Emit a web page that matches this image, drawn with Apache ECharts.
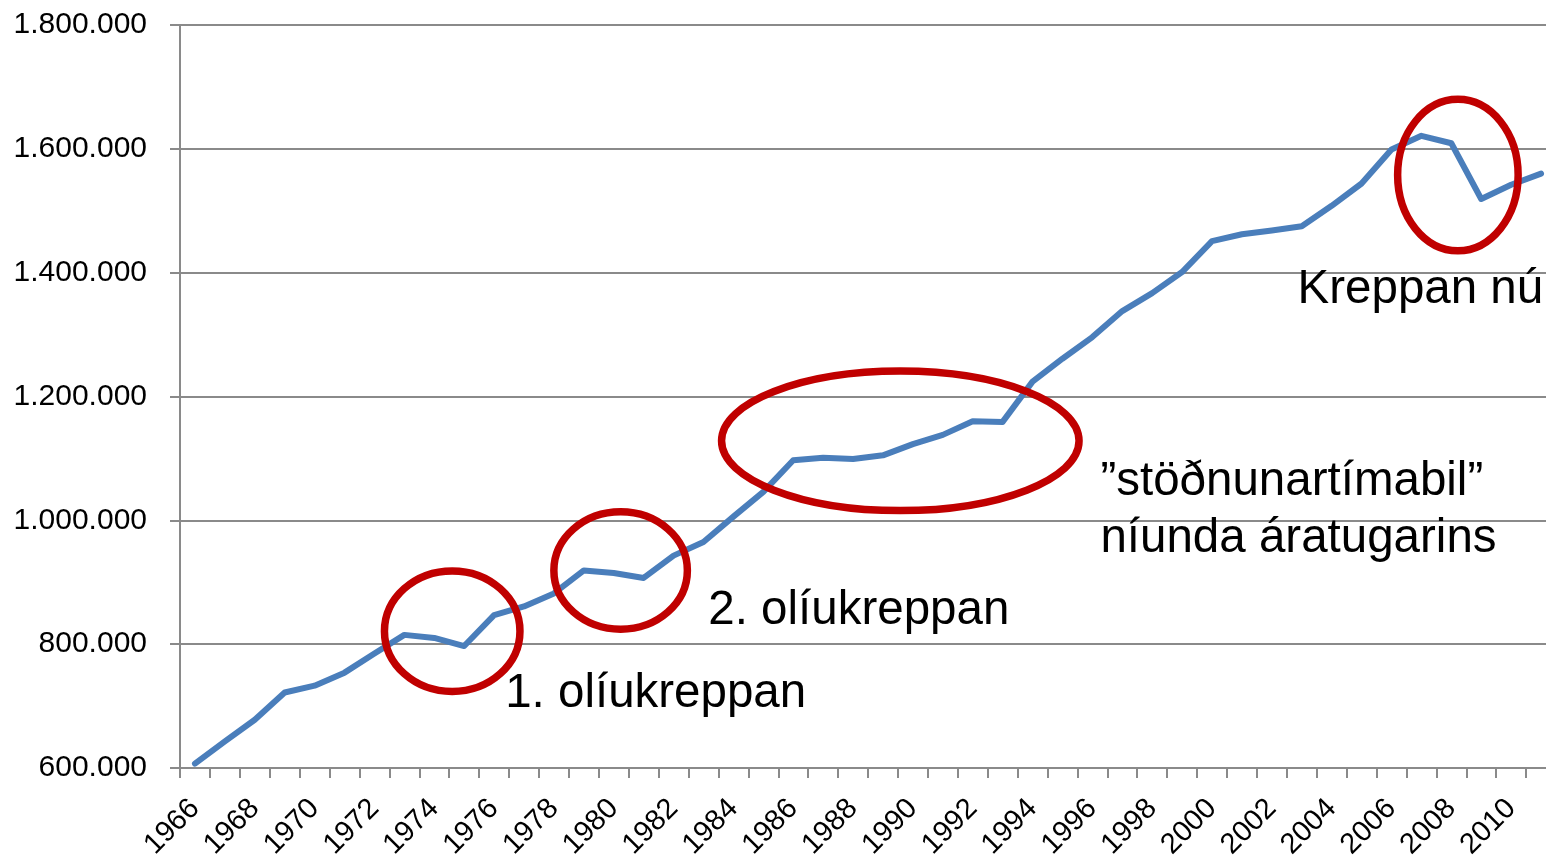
<!DOCTYPE html>
<html>
<head>
<meta charset="utf-8">
<script src="https://cdn.jsdelivr.net/npm/echarts@6/dist/echarts.min.js"></script>
<style>
html,body{margin:0;padding:0;background:#fff;}
#c{width:1546px;height:859px;}
</style>
</head>
<body>
<div id="c"></div>
<script>
// ---- data ----
const years = [];
for (let y = 1966; y <= 2011; y++) years.push(String(y));
const values = [
  607000, 643000, 678000, 722000, 733000, 754000, 785000, 815000, 810000, 797000,
  847000, 861000, 882000, 919000, 915000, 907000, 943000, 965000, 1006000, 1046000,
  1097000, 1101000, 1099000, 1105000, 1123000, 1138000, 1160000, 1159000, 1224000, 1261000,
  1296000, 1338000, 1367000, 1401000, 1451000, 1462000, 1468000, 1475000, 1508000, 1544000,
  1599000, 1621000, 1609000, 1519000, 1542000, 1560000
];
const yTicks = { min: 600000, max: 1800000, interval: 200000 };

// annotation anchors in data space: [year index, value]
const ellipseCenters = [[8.6, 821000], [14.23, 919000], [23.58, 1128400], [42.22, 1557700]];
const ellipseRadii = [[67.75, 60.25], [66.75, 58.75], [178.75, 69.75], [60.25, 75.75]];
const noteAnchors = [[10.37, 719800], [17.16, 853700], [30.27, 1015800], [36.86, 1371500]];
const noteTexts = ['1. olíukreppan', '2. olíukreppan', '\u201Dstöðnunartímabil\u201D\nníunda áratugarins', 'Kreppan nú'];

// ---- chart ----
const fmt = v => String(v).replace(/\B(?=(\d{3})+(?!\d))/g, '.');
const gray = '#8a8a8a';
const chart = echarts.init(document.getElementById('c'), null, { renderer: 'canvas' });
chart.setOption({
  animation: false,
  backgroundColor: '#ffffff',
  grid: { left: 180, right: -10, top: 25, bottom: 91, containLabel: false, outerBoundsMode: 'none' },
  xAxis: [{
    type: 'category',
    data: years,
    boundaryGap: true,
    axisLine: { lineStyle: { color: gray, width: 2 } },
    axisTick: { show: true, interval: 0, length: 10, lineStyle: { color: gray, width: 2 } },
    axisLabel: {
      interval: 1, rotate: 45, fontSize: 29, color: '#000',
      fontFamily: 'Liberation Sans', margin: 36
    },
    splitLine: { show: false }
  }, {
    type: 'value', min: -0.5, max: years.length - 0.5, show: false,
    splitLine: { show: false }
  }],
  yAxis: {
    type: 'value',
    min: yTicks.min, max: yTicks.max, interval: yTicks.interval,
    axisLine: { show: true, onZero: false, lineStyle: { color: gray, width: 2 } },
    axisTick: { show: true, length: 10, lineStyle: { color: gray, width: 2 } },
    axisLabel: { formatter: fmt, fontSize: 30, color: '#000', fontFamily: 'Liberation Sans', margin: 33 },
    splitLine: { show: true, lineStyle: { color: gray, width: 2 } }
  },
  series: [{
    type: 'line',
    data: values,
    symbol: 'none',
    lineStyle: { color: '#4A7EBB', width: 6, cap: 'round', join: 'round' },
    z: 3
  }, {
    type: 'custom',
    xAxisIndex: 1,
    data: ellipseCenters,
    z: 5,
    renderItem: function (params, api) {
      const p = api.coord([api.value(0), api.value(1)]);
      const r = ellipseRadii[params.dataIndex];
      return {
        type: 'ellipse',
        shape: { cx: p[0], cy: p[1], rx: r[0], ry: r[1] },
        style: { fill: 'none', stroke: '#C00000', lineWidth: 7.5 }
      };
    }
  }, {
    type: 'custom',
    xAxisIndex: 1,
    data: noteAnchors,
    z: 6,
    renderItem: function (params, api) {
      const p = api.coord([api.value(0), api.value(1)]);
      return {
        type: 'text',
        x: p[0], y: p[1],
        style: {
          text: noteTexts[params.dataIndex],
          fill: '#000',
          font: '47.5px "Liberation Sans"',
          align: 'left',
          verticalAlign: 'middle',
          lineHeight: 57
        }
      };
    }
  }]
});
</script>
</body>
</html>
